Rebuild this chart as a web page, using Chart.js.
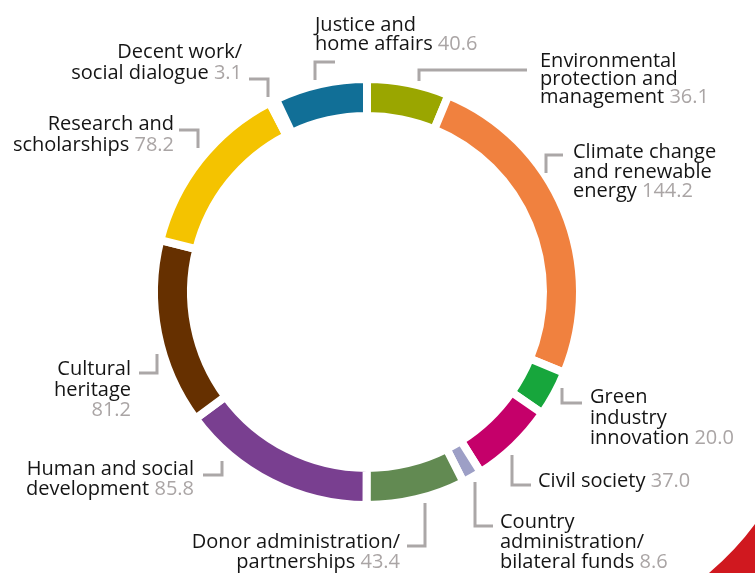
<!DOCTYPE html>
<html lang="en">
<head>
    <meta charset="UTF-8">
    <title>Funding by sector</title>
    <script src="https://cdn.jsdelivr.net/npm/chart.js"></script>
    <style>
        html, body { margin: 0; padding: 0; background: #fff; }
        #wrap { width: 755px; height: 573px; position: relative; }
    </style>
</head>
<body>
<div id="wrap">
    <canvas id="myChart" width="755" height="573"></canvas>
</div>
<script>
    // dados (sentido horário a partir do topo)
    const sectors = [
        'Environmental protection and management',
        'Climate change and renewable energy',
        'Green industry innovation',
        'Civil society',
        'Country administration/bilateral funds',
        'Donor administration/partnerships',
        'Human and social development',
        'Cultural heritage',
        'Research and scholarships',
        'Decent work/social dialogue',
        'Justice and home affairs'
    ];
    const amounts = [36.1, 144.2, 20.0, 37.0, 8.6, 43.4, 85.8, 81.2, 78.2, 3.1, 40.6];
    const sectorColors = ['#9aa600', '#f0813f', '#17a63c', '#c5006a', '#9d9fc6', '#628a52',
        '#793f90', '#663000', '#f4c300', '#1b9bd7', '#116f97'];

    // quebras de linha dos rótulos
    const labelLines = [
        ['Environmental', 'protection and', 'management'],
        ['Climate change', 'and renewable', 'energy'],
        ['Green', 'industry', 'innovation'],
        ['Civil society'],
        ['Country', 'administration/', 'bilateral funds'],
        ['Donor administration/', 'partnerships'],
        ['Human and social', 'development'],
        ['Cultural', 'heritage', ''],
        ['Research and', 'scholarships'],
        ['Decent work/', 'social dialogue'],
        ['Justice and', 'home affairs']
    ];

    // posição dos rótulos e linhas-guia
    const labelLayout = [
        { x: 540, y: 67, align: 'left', lh: 18, lead: [[527, 70], [419, 70], [419, 81]] },
        { x: 573, y: 158, align: 'left', lh: 19.5, lead: [[563, 155], [546, 155], [546, 173]] },
        { x: 590, y: 403, align: 'left', lh: 20.5, lead: [[562, 388], [562, 403], [582, 403]] },
        { x: 538, y: 487, align: 'left', lh: 20, lead: [[512, 455], [512, 485], [531, 485]] },
        { x: 500, y: 528, align: 'left', lh: 20, lead: [[475, 482], [475, 526], [493, 526]] },
        { x: 400, y: 548, align: 'right', lh: 20, lead: [[425, 503], [425, 546], [407, 546]] },
        { x: 194, y: 475, align: 'right', lh: 20, lead: [[222, 461], [222, 475], [203, 475]] },
        { x: 131, y: 375, align: 'right', lh: 20.5, lead: [[157, 354], [157, 373], [139, 373]] },
        { x: 174, y: 130, align: 'right', lh: 21, lead: [[179, 130], [198, 130], [198, 148]] },
        { x: 242, y: 58, align: 'right', lh: 21, lead: [[249, 79], [268, 79], [268, 97]] },
        { x: 315, y: 31, align: 'left', lh: 19, lead: [[335, 62], [315, 62], [315, 80]] }
    ];

    const FONT = '20px "Open Sans", sans-serif';

    const labelPlugin = {
        id: 'labels',
        afterDraw(chart) {
            const c = chart.ctx;
            c.save();
            // canto vermelho decorativo
            c.fillStyle = '#d0181f';
            c.beginPath();
            c.moveTo(709, 573);
            c.quadraticCurveTo(736, 550, 755, 524);
            c.lineTo(755, 573);
            c.closePath();
            c.fill();

            c.font = FONT;
            c.textBaseline = 'alphabetic';
            c.lineWidth = 3;
            c.strokeStyle = '#aba7a7';
            labelLayout.forEach(function (l, i) {
                c.beginPath();
                c.moveTo(l.lead[0][0], l.lead[0][1]);
                c.lineTo(l.lead[1][0], l.lead[1][1]);
                c.lineTo(l.lead[2][0], l.lead[2][1]);
                c.stroke();

                const lines = labelLines[i];
                const num = amounts[i].toFixed(1);
                for (let k = 0; k < lines.length; k++) {
                    const y = l.y + k * l.lh;
                    const txt = lines[k];
                    const last = k == lines.length - 1;
                    if (!last) {
                        c.fillStyle = '#151515';
                        c.textAlign = l.align;
                        c.fillText(txt, l.x, y);
                        continue;
                    }
                    const sep = txt ? ' ' : '';
                    const wTxt = c.measureText(txt + sep).width;
                    const wNum = c.measureText(num).width;
                    let x0 = l.align == 'left' ? l.x : l.x - wTxt - wNum;
                    c.textAlign = 'left';
                    c.fillStyle = '#151515';
                    c.fillText(txt, x0, y);
                    c.fillStyle = '#aaa5a5';
                    c.fillText(num, x0 + wTxt, y);
                }
            });
            c.restore();
        }
    };

    const ctx1 = document.getElementById('myChart').getContext('2d');
    const myChart = new Chart(ctx1, {
        type: 'doughnut',
        data: {
            labels: sectors,
            datasets: [{
                data: amounts,
                backgroundColor: sectorColors,
                borderColor: '#ffffff',
                borderWidth: 8,
                borderJoinStyle: 'miter',
                hoverOffset: 0
            }]
        },
        options: {
            responsive: false,
            animation: false,
            cutout: 176,
            rotation: 0,
            layout: { padding: { left: 150, right: 171, top: 75, bottom: 64 } },
            plugins: {
                legend: { display: false },
                tooltip: { enabled: false }
            }
        },
        plugins: [labelPlugin]
    });
</script>
</body>
</html>
